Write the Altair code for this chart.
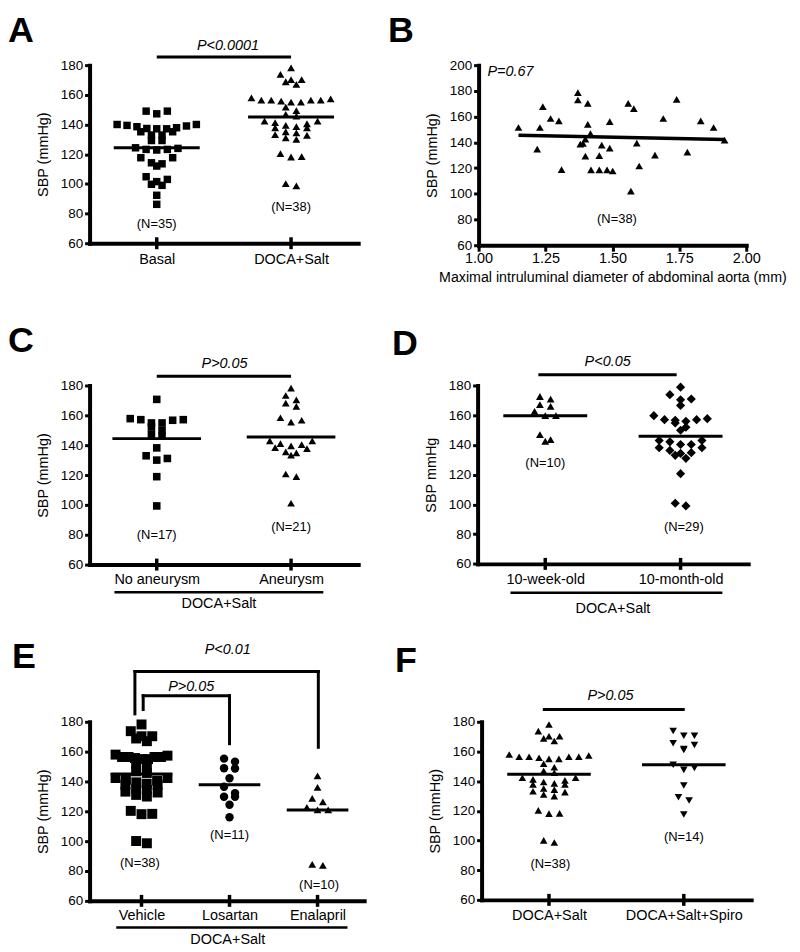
import json
import altair as alt
import pandas as pd

FONT = "Liberation Sans, Arial, Helvetica, sans-serif"

# ---------------- values ----------------
Y_TICKS = [60, 80, 100, 120, 140, 160, 180]
B_Y_TICKS = [60, 80, 100, 120, 140, 160, 180, 200]
B_X_TICKS = [1.0, 1.25, 1.5, 1.75, 2.0]
GROUP = "DOCA+Salt"
Y_TITLE = "SBP (mmHg)"
D_Y_TITLE = "SBP mmHg"
B_X_TITLE = "Maximal intruluminal diameter of abdominal aorta (mm)"

A_CATS = ["Basal", "DOCA+Salt"]
A_BASAL = [149.0, 147.2, 149.0, 140.0, 138.5, 137.3, 137.1, 137.1, 137.8, 139.0, 139.4, 140.0,
           135.1, 132.9, 132.9, 135.1, 129.2, 129.2, 123.9, 123.2, 122.8, 123.2, 124.3,
           117.6, 117.6, 114.2, 113.5, 112.0, 103.0, 104.8, 99.7, 99.0, 101.5, 92.3, 86.2]
DOCA_SALT = [178.2, 173.7, 170.3, 168.8, 170.3, 167.0,
             158.0, 157.3, 156.4, 156.4, 155.0, 155.0, 155.7, 156.4, 156.4,
             151.7, 149.4, 145.7, 146.8,
             142.3, 141.2, 139.4, 137.8, 137.8, 138.5, 140.5, 142.3,
             134.3, 132.6, 129.9, 131.0, 133.2, 135.1,
             118.3, 118.1, 120.3, 98.6, 100.1]
A_MEANS = [124.3, 145.0]
A_N = ["(N=35)", "(N=38)"]
A_P = "P<0.0001"

B_X = [1.149, 1.219, 1.229, 1.240, 1.269, 1.300, 1.310, 1.371, 1.371, 1.380, 1.390, 1.399,
       1.399, 1.408, 1.408, 1.418, 1.420, 1.451, 1.451, 1.460, 1.480, 1.490, 1.490, 1.501,
       1.559, 1.569, 1.580, 1.591, 1.600, 1.659, 1.690, 1.740, 1.780, 1.830, 1.878, 1.919]
B_Y = [151.5, 134.7, 151.5, 167.7, 158.5, 156.6, 118.8, 178.6, 172.9, 138.6, 139.1, 142.5,
       129.3, 170.3, 154.0, 146.8, 118.5, 129.6, 118.5, 137.8, 118.5, 135.5, 156.1, 117.7,
       170.3, 102.0, 166.2, 139.3, 121.6, 130.1, 158.5, 173.4, 132.4, 156.6, 151.5, 141.7]
B_P = "P=0.67"
B_N = "(N=38)"

C_CATS = ["No aneurysm", "Aneurysm"]
C_NO = [170.7, 157.8, 157.1, 154.9, 154.9, 156.7, 152.2, 157.1, 150.0, 146.0, 147.3,
        138.2, 132.9, 130.0, 131.1, 118.9, 99.3]
C_AN = [178.2, 173.3, 170.4, 168.2, 166.0, 158.4, 155.5, 156.7, 140.4, 138.4, 142.9,
        141.1, 142.9, 137.7, 139.5, 135.5, 133.3, 134.9, 120.7, 118.9, 101.1]
C_MEANS = [144.4, 145.5]
C_N = ["(N=17)", "(N=21)"]
C_P = "P>0.05"

D_CATS = ["10-week-old", "10-month-old"]
D_WEEK = [166.0, 170.9, 172.6, 167.1, 162.6, 159.7, 159.7, 147.0, 142.5, 143.6]
D_MONTH = [178.9, 173.8, 170.9, 170.4, 166.6, 157.0, 157.0, 154.8, 159.7, 157.7, 151.9,
           155.9, 156.6, 149.9, 143.0, 138.1, 136.3, 140.3, 140.3, 142.1, 143.0, 134.3,
           131.0, 133.0, 134.8, 138.1, 120.7, 99.0, 100.8]
D_MEANS = [159.7, 145.9]
D_N = ["(N=10)", "(N=29)"]
D_P = "P<0.05"

E_CATS = ["Vehicle", "Losartan", "Enalapril"]
E_LOS = [153.3, 155.3, 148.7, 148.9, 142.2, 136.4, 132.2, 129.7, 129.7, 124.4, 116.0]
E_ENA = [143.8, 136.0, 126.4, 128.7, 120.9, 120.9, 122.7, 83.8, 84.4]
E_MEANS = [145.0, 137.8, 120.9]
E_N = ["(N=38)", "(N=11)", "(N=10)"]
E_P = ["P<0.01", "P>0.05"]

F_CATS = ["DOCA+Salt", "DOCA+Salt+Spiro"]
F_SPIRO = [170.6, 170.6, 173.8, 164.4, 165.5, 161.0, 161.7, 148.8, 147.6, 151.0,
           137.1, 129.1, 126.9, 117.5]
F_MEANS = [144.7, 151.0]
F_N = ["(N=38)", "(N=14)"]
F_P = "P>0.05"


# ---------------- helpers ----------------
def swarm(vals, bw, sp, maxw):
    """GraphPad-like row layout: values close together share a row."""
    order = sorted(range(len(vals)), key=lambda i: -vals[i])
    rows, cur, top = [], [], None
    for i in order:
        if cur and top - vals[i] >= bw:
            rows.append(cur)
            cur = []
        if not cur:
            top = vals[i]
        cur.append(i)
    if cur:
        rows.append(cur)
    off = [0.0] * len(vals)
    for r in rows:
        n = len(r)
        s = sp if n < 2 else min(sp, maxw / (n - 1))
        lo, hi = 0, n - 1
        for k, i in enumerate(r):
            if k % 2 == 0:
                slot = lo
                lo += 1
            else:
                slot = hi
                hi -= 1
            off[i] = (slot - (n - 1) / 2) * s
    return off


def y_axis(title, values, h):
    return alt.Axis(values=values, title=title, tickSize=5, tickWidth=3, labelPadding=2,
                    labelFontSize=13.5, titleFontSize=14.5, titleFontWeight="normal",
                    titleX=-46, titleY=h / 2, titleAngle=270, titleAlign="center",
                    titleBaseline="middle", grid=False, domainWidth=4)


def cat_axis(cats, pad):
    expr = json.dumps([""] + cats) + "[datum.value]"
    return alt.Axis(values=list(range(1, len(cats) + 1)), labelExpr=expr, ticks=False,
                    tickSize=0, labelPadding=pad, labelFontSize=14.5, title=None, grid=False,
                    labelFlush=False, labelOverlap=False, domainWidth=4)


def frame_layer(fr):
    L, R, T, B = fr
    return alt.Chart(pd.DataFrame({"k": [0]})).mark_rect(opacity=0).encode(
        x=alt.value(L), x2=alt.value(R), y=alt.value(T), y2=alt.value(B))


def letter_layer(letter):
    t, lx, ly = letter
    return alt.Chart(pd.DataFrame({"t": [t]})).mark_text(
        font=FONT, fontSize=36, fontWeight="bold", align="left", baseline="alphabetic",
        color="black").encode(x=alt.value(lx), y=alt.value(ly), text="t:N")


def cat_panel(cats, groups, shapes, sizes, spacing, means, w, h, xdom, ytitle, lab_pad,
              p_texts, p_rules, n_texts, letter, frame, under=None, bw=4.5, maxw=0.59,
              hw=0.32, bracket=False):
    xs = alt.Scale(domain=xdom, nice=False, zero=False)
    ys = alt.Scale(domain=[60, 180], nice=False, zero=False)
    X = alt.X("x:Q", scale=xs, axis=cat_axis(cats, lab_pad))
    Y = alt.Y("y:Q", scale=ys, axis=y_axis(ytitle, Y_TICKS, h))
    layers = [frame_layer(frame)]
    for gi, (vals, shape, size, sp) in enumerate(zip(groups, shapes, sizes, spacing)):
        off = swarm(vals, bw, sp, maxw)
        df = pd.DataFrame({"x": [gi + 1 + o for o in off], "y": vals})
        layers.append(alt.Chart(df).mark_point(
            shape=shape, size=size, filled=True, color="black", opacity=1, strokeWidth=0
        ).encode(x=X, y=Y))
    mdf = pd.DataFrame({"x": [i + 1 - hw for i in range(len(means))],
                        "x2": [i + 1 + hw for i in range(len(means))], "y": means})
    layers.append(alt.Chart(mdf).mark_rule(color="black", strokeWidth=3).encode(
        x=X, x2="x2:Q", y=Y))
    n = len(cats)
    t = 6.0 / (h / 120.0)
    tdf = pd.DataFrame({"x": list(range(1, n + 1)), "y": [60 - t] * n, "y2": [60 + t] * n})
    layers.append(alt.Chart(tdf).mark_rule(color="black", strokeWidth=3.5).encode(
        x=X, y=Y, y2="y2:Q"))
    prdf = pd.DataFrame(p_rules, columns=["x", "y", "x2", "y2"])
    layers.append(alt.Chart(prdf).mark_rule(
        color="black", strokeWidth=3, strokeCap="square" if bracket else "butt"
    ).encode(x=X, y=Y, x2="x2:Q", y2="y2:Q"))
    ptdf = pd.DataFrame(p_texts, columns=["t", "x", "y"])
    layers.append(alt.Chart(ptdf).mark_text(
        font=FONT, fontSize=14.5, fontStyle="italic", color="black", baseline="middle"
    ).encode(x=X, y=Y, text="t:N"))
    ntdf = pd.DataFrame(n_texts, columns=["t", "x", "y"])
    layers.append(alt.Chart(ntdf).mark_text(
        font=FONT, fontSize=13, color="black", baseline="middle").encode(x=X, y=Y, text="t:N"))
    if under is not None:
        ux, ux2, uy, lx, ly = under
        udf = pd.DataFrame({"x": [ux], "x2": [ux2], "y": [uy]})
        layers.append(alt.Chart(udf).mark_rule(color="black", strokeWidth=2.5).encode(
            x=X, x2="x2:Q", y=Y))
        gdf = pd.DataFrame({"t": [GROUP], "x": [lx], "y": [ly]})
        layers.append(alt.Chart(gdf).mark_text(
            font=FONT, fontSize=14.5, color="black", baseline="middle").encode(
            x=X, y=Y, text="t:N"))
    layers.append(letter_layer(letter))
    return alt.layer(*layers).properties(width=w, height=h)


def b_panel():
    w, h = 269, 181
    xs = alt.Scale(domain=[1, 2], nice=False, zero=False)
    ys = alt.Scale(domain=[60, 200], nice=False, zero=False)
    xa = alt.Axis(values=B_X_TICKS, format=".2f", tickSize=6, tickWidth=3, labelPadding=0,
                  labelFontSize=14.5, title=B_X_TITLE, titleFontSize=14.3,
                  titleFontWeight="normal", titleY=32, titleBaseline="middle", grid=False,
                  labelFlush=False, domainWidth=4)
    X = alt.X("x:Q", scale=xs, axis=xa)
    Y = alt.Y("y:Q", scale=ys, axis=y_axis(Y_TITLE, B_Y_TICKS, h))
    df = pd.DataFrame({"x": B_X, "y": B_Y})
    pts = alt.Chart(df).mark_point(shape="triangle-up", size=60, filled=True, color="black",
                                   opacity=1, strokeWidth=0).encode(x=X, y=Y)
    reg = alt.Chart(df).transform_regression(
        "x", "y", extent=[min(B_X), max(B_X)]
    ).mark_line(color="black", strokeWidth=3.5).encode(x=X, y=Y)
    ptxt = alt.Chart(pd.DataFrame({"t": [B_P], "x": [1.033], "y": [194.8]})).mark_text(
        font=FONT, fontSize=14.5, fontStyle="italic", color="black", align="left",
        baseline="middle").encode(x=X, y=Y, text="t:N")
    ntxt = alt.Chart(pd.DataFrame({"t": [B_N], "x": [1.517], "y": [80]})).mark_text(
        font=FONT, fontSize=13, color="black", baseline="middle").encode(x=X, y=Y, text="t:N")
    return alt.layer(frame_layer((-93, 311, -54.3, 245.7)), pts, reg, ptxt, ntxt,
                     letter_layer(("B", -91, -23.3))).properties(width=w, height=h)


# ---------------- panels ----------------
pA = cat_panel(A_CATS, [A_BASAL, DOCA_SALT], ["square", "triangle-up"], [56, 62],
               [0.079, 0.079], A_MEANS, 270, 179, [0.5, 2.5], Y_TITLE, 9,
               [(A_P, 1.53, 192.9)], [(1, 185.4, 2, 185.4)],
               [(A_N[0], 1, 72.9), (A_N[1], 2, 84.3)],
               ("A", -82, -23.3), (-82, 298, -54.3, 245.7), hw=0.32)

pB = b_panel()

pC = cat_panel(C_CATS, [C_NO, C_AN], ["square", "triangle-up"], [58, 60],
               [0.079, 0.079], C_MEANS, 270, 180, [0.5, 2.5], Y_TITLE, 7.7,
               [(C_P, 1.505, 194.4)], [(1, 186.2, 2, 186.2)],
               [(C_N[0], 1, 80), (C_N[1], 2, 85.5)],
               ("C", -82, -33.3), (-82, 298, -75.3, 240.7),
               under=(0.685, 2.24, 41.5, 1.463, 33.3), hw=0.33)

pD = cat_panel(D_CATS, [D_WEEK, D_MONTH], ["triangle-up", "diamond"], [62, 85],
               [0.079, 0.079], D_MEANS, 272, 179.3, [0.5, 2.5], D_Y_TITLE, 8.7,
               [(D_P, 1.461, 196.1)], [(0.949, 187.2, 1.971, 187.2)],
               [(D_N[0], 1, 128.1), (D_N[1], 2.024, 85)],
               ("D", -86, -30.7), (-92, 312, -72.7, 243.3),
               under=(0.743, 2.309, 40.6, 1.5, 29.9), hw=0.31)

pE = cat_panel(E_CATS, [DOCA_SALT, E_LOS, E_ENA], ["square", "circle", "triangle-up"],
               [100, 72, 62], [0.122, 0.125, 0.121], E_MEANS, 276, 180, [0.41, 3.53],
               Y_TITLE, 8,
               [(E_P[0], 1.98, 228.2), (E_P[1], 1.565, 203.1)],
               [(0.925, 185.3, 0.925, 213.7), (0.925, 213.7, 3.009, 213.7),
                (3.009, 213.7, 3.009, 162.9),
                (1.019, 188.2, 1.019, 197.5), (1.019, 197.5, 2.0, 197.5),
                (2.0, 197.5, 2.0, 165.3)],
               [(E_N[0], 0.982, 85.3), (E_N[1], 2.0, 104.4), (E_N[2], 3.017, 70.9)],
               ("E", -78, -54.3), (-78, 302, -93.3, 226.7),
               under=(0.713, 3.34, 42.2, 1.98, 33.9), hw=0.35, bracket=True)

pF = cat_panel(F_CATS, [DOCA_SALT, F_SPIRO], ["triangle-up", "triangle-down"], [58, 58],
               [0.079, 0.079], F_MEANS, 271, 179, [0.5, 2.5], Y_TITLE, 9,
               [(F_P, 1.456, 197.4)], [(0.954, 188.3, 2.007, 188.3)],
               [(F_N[0], 1.01, 84.4), (F_N[1], 2.0, 102.5)],
               ("F", -87, -49.7), (-92, 312, -87.7, 232.3), hw=0.31)

chart = alt.vconcat(
    alt.hconcat(pA, pB, spacing=0),
    alt.hconcat(pC, pD, spacing=0),
    alt.hconcat(pE, pF, spacing=0),
    spacing=0,
).properties(padding=0).configure_view(stroke=None).configure_axis(
    domainColor="black", tickColor="black", labelColor="black", titleColor="black",
    labelFont=FONT, titleFont=FONT, domainCap="square", grid=False
)

chart.save("out.html", embed_options={"renderer": "svg", "actions": False})
